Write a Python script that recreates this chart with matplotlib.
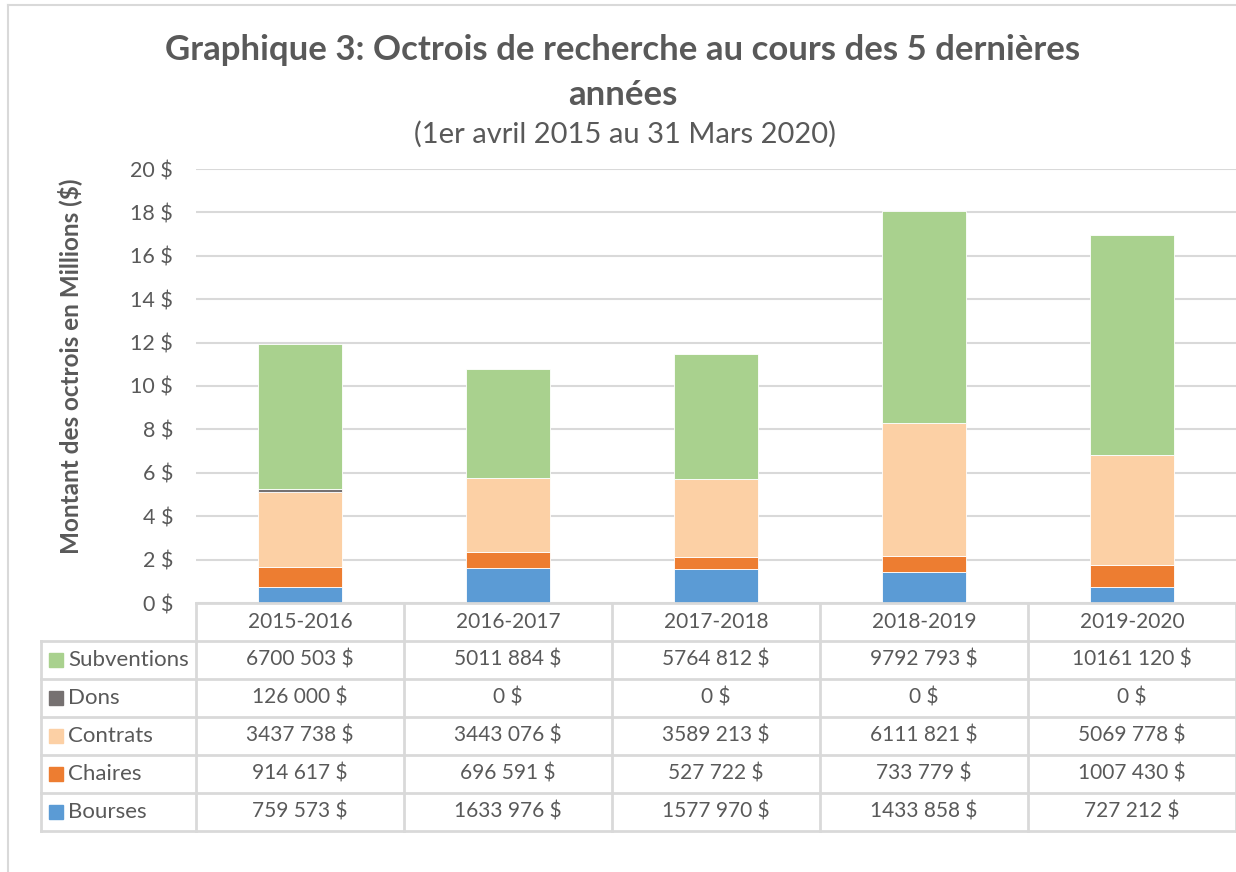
import numpy as np
import matplotlib.pyplot as plt
from matplotlib.lines import Line2D
from matplotlib.patches import Rectangle

plt.rcParams['font.family'] = ['Lato', 'DejaVu Sans']

# données (en $)
annees = ['2015-2016', '2016-2017', '2017-2018', '2018-2019', '2019-2020']
bourses = [759573, 1633976, 1577970, 1433858, 727212]
chaires = [914617, 696591, 527722, 733779, 1007430]
contrats = [3437738, 3443076, 3589213, 6111821, 5069778]
dons = [126000, 0, 0, 0, 0]
subventions = [6700503, 5011884, 5764812, 9792793, 10161120]

noms = ['Bourses', 'Chaires', 'Contrats', 'Dons', 'Subventions']
couleurs = ['#5B9BD5', '#ED7D31', '#FCD0A5', '#767171', '#A9D18E']
valeurs = [bourses, chaires, contrats, dons, subventions]

gris = '#595959'
ligne = '#D9D9D9'

W, H = 1236, 872
fig = plt.figure(figsize=(W / 100, H / 100), dpi=100)


def box(x0, y0, x1, y1):
    # pixels (depuis le haut) -> fraction de figure
    return [x0 / W, 1 - y1 / H, (x1 - x0) / W, (y1 - y0) / H]


# cadre du graphique
fig.add_artist(Line2D([8 / W, 8 / W], [0, 1 - 5 / H], color=ligne, lw=1.5))
fig.add_artist(Line2D([8 / W, 1], [1 - 5 / H, 1 - 5 / H], color=ligne, lw=1.5))

ax = fig.add_axes(box(196, 169, 1236, 603))
x = np.arange(len(annees))
bas = np.zeros(len(annees))
for nom, c, v in zip(noms, couleurs, valeurs):
    v = np.array(v) / 1e6
    ax.bar(x, v, 0.4, bottom=bas, color=c, edgecolor='white', linewidth=0.6, zorder=3)
    bas += v

ax.set_xlim(-0.5, 4.5)
ax.set_ylim(0, 20)
ax.set_yticks(np.arange(0, 21, 2))
ax.set_yticklabels([f'{t} $' for t in range(0, 21, 2)])
ax.set_xticks([])
ax.grid(axis='y', color=ligne, lw=1.5, zorder=0)
for s in ax.spines.values():
    s.set_visible(False)
ax.tick_params(axis='y', length=0, pad=16.5, labelsize=15.5, labelcolor=gris)

# tableau de données
tab = fig.add_axes(box(196, 603, 1236, 831))
tab.set_xlim(-0.5, 4.5)
tab.set_ylim(6, 0)
tab.axis('off')
xl = -0.5 - 155 / 208

tab.plot([-0.5, 4.5], [0, 0], color=ligne, lw=2, clip_on=False)
for r in range(1, 7):
    tab.plot([xl, 4.5], [r, r], color=ligne, lw=2, clip_on=False)
for i in range(6):
    tab.plot([-0.5 + i, -0.5 + i], [0, 6], color=ligne, lw=2, clip_on=False)
tab.plot([xl, xl], [1, 6], color=ligne, lw=2, clip_on=False)


def fmt(v):
    if v >= 1000:
        return f'{v // 1000} {v % 1000:03d} $'
    return f'{v} $'


for i, a in enumerate(annees):
    tab.text(i, 0.5, a, ha='center', va='center', fontsize=15, color=gris)

for r, k in enumerate(range(len(noms) - 1, -1, -1)):
    y = r + 1.5
    tab.add_patch(Rectangle((xl + 8 / 208, y - 0.18), 14 / 208, 0.36,
                            color=couleurs[k], clip_on=False))
    tab.text(xl + 27 / 208, y, noms[k], ha='left', va='center',
             fontsize=16, color=gris, clip_on=False)
    for i in range(len(annees)):
        tab.text(i, y, fmt(valeurs[k][i]), ha='center', va='center',
                 fontsize=15, color=gris)

# titres
fig.text(623 / W, 1 - 50 / H, 'Graphique 3: Octrois de recherche au cours des 5 dernières',
         ha='center', va='center', fontsize=25, fontweight='bold', color=gris)
fig.text(623 / W, 1 - 95 / H, 'années',
         ha='center', va='center', fontsize=25, fontweight='bold', color=gris)
fig.text(625 / W, 1 - 134 / H, '(1er avril 2015 au 31 Mars 2020)',
         ha='center', va='center', fontsize=21, color=gris)
fig.text(70 / W, 1 - 366 / H, 'Montant des octrois en Millions ($)', rotation=90,
         ha='center', va='center', fontsize=17.5, fontweight='bold', color=gris)

fig.savefig('out.png', dpi=100)
